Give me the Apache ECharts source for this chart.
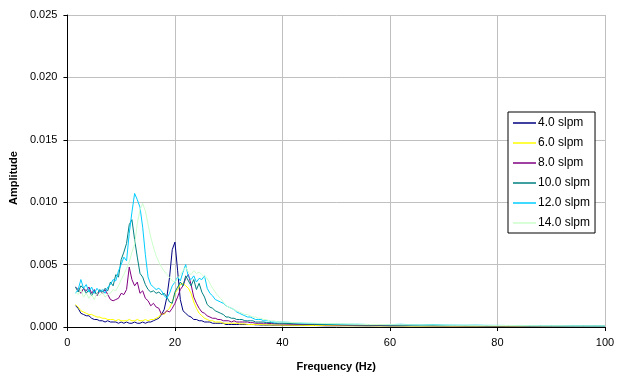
<!DOCTYPE html>
<html>
<head>
<meta charset="utf-8">
<script src="https://cdn.jsdelivr.net/npm/echarts@6/dist/echarts.min.js"></script>
<style>html,body{margin:0;padding:0;background:#fff}#chart{width:618px;height:379px}</style>
</head>
<body>
<div id="chart"></div>
<script>
// Frequency (Hz)
const freq = [
  1.5,2,2.5,3,3.5,4,4.5,5,5.5,6,
  6.5,7,7.5,8,8.5,9,9.5,10,10.5,11,
  11.5,12,12.5,13,13.5,14,14.5,15,15.5,16,
  16.5,17,17.5,18,18.5,19,19.5,20,20.5,21,
  21.5,22,22.5,23,23.5,24,24.5,25,25.5,26,
  26.5,27,27.5,28,28.5,29,29.5,30,30.5,31,
  31.5,32,32.5,33,33.5,34,34.5,35,35.5,36,
  36.5,37,37.5,38,38.5,39,39.5,40,
  42,44,46,48,50,52,54,56,58,60,
  62,64,66,68,70,72,74,76,78,80,
  82,84,86,88,90,92,94,96,98,100
];
const seriesNames = ['4.0 slpm','6.0 slpm','8.0 slpm','10.0 slpm','12.0 slpm','14.0 slpm'];
const amp4 = [
  .0017,.0015,.0011,.0010,.0009,.0009,.0007,.0006,.0006,.0005,
  .0005,.0004,.0005,.0004,.0004,.0004,.0003,.0004,.0003,.0004,
  .0003,.0003,.0004,.0003,.0003,.0004,.0003,.0004,.0004,.0005,
  .0006,.0007,.0010,.0014,.0024,.0040,.0062,.0068,.0045,.0022,
  .0013,.0011,.0009,.0008,.0006,.0006,.0005,.0005,.0004,.0004,
  .0004,.0003,.0003,.0003,.0003,.0003,.0002,.0002,.0002,.0002,
  .0002,.0002,.0002,.0002,.0002,.0002,.0002,.00018,.00018,.00016,
  .00016,.00015,.00016,.00015,.00014,.00015,.00014,.00014,
  .00013,.00012,.00012,.0001,.0001,.00011,.0001,.00009,.0001,.00008,
  .00008,.00009,.00008,.00008,.00007,.00008,.00007,.00007,.00007,.00006,
  .00007,.00006,.00006,.00007,.00006,.00006,.00005,.00006,.00005,.00005
];
const amp6 = [
  .0018,.0016,.0013,.0012,.0011,.0010,.0010,.0009,.0008,.0008,
  .0007,.0007,.0006,.0006,.0006,.0005,.0006,.0005,.0005,.0005,
  .0006,.0005,.0005,.0006,.0005,.0005,.0006,.0005,.0006,.0006,
  .0007,.0008,.0011,.0010,.0013,.0015,.0020,.0027,.0030,.0034,
  .0035,.0033,.0031,.0027,.0020,.0015,.0011,.0009,.0007,.0006,
  .0005,.0005,.0004,.0004,.0004,.0003,.0003,.0003,.0003,.0003,
  .0003,.00025,.00025,.00025,.0002,.0002,.0002,.0002,.0002,.0002,
  .00018,.00018,.00017,.00017,.00016,.00016,.00015,.00015,
  .00014,.00013,.00012,.00012,.00011,.0001,.0001,.0001,.00009,.00009,
  .00009,.00008,.00008,.00008,.00008,.00007,.00007,.00007,.00007,.00007,
  .00006,.00006,.00006,.00006,.00006,.00006,.00005,.00005,.00005,.00005
];
const amp8 = [
  .0032,.0030,.0027,.0031,.0029,.0032,.0027,.0030,.0025,.0029,
  .0027,.0030,.0026,.0022,.0021,.0022,.0023,.0027,.0026,.0030,
  .0048,.0038,.0033,.0036,.0027,.0029,.0023,.0021,.0017,.0019,
  .0016,.0015,.0010,.0011,.0013,.0012,.0015,.0019,.0024,.0030,
  .0033,.0039,.0042,.0034,.0024,.0019,.0015,.0012,.0011,.0009,
  .0008,.0007,.0007,.0006,.0006,.0005,.0005,.0005,.0004,.0005,
  .0004,.0004,.0004,.0004,.0004,.00035,.00035,.0003,.0003,.0003,
  .0003,.0003,.00028,.00028,.00026,.00026,.00025,.00025,
  .00022,.0002,.0002,.00018,.00017,.00016,.00015,.00015,.00014,.00013,
  .00013,.00012,.00012,.00011,.00011,.0001,.0001,.0001,.00009,.00009,
  .00009,.00009,.00008,.00008,.00008,.00008,.00007,.00007,.00007,.00007
];
const amp10 = [
  .0032,.0028,.0033,.0031,.0027,.0030,.0025,.0029,.0026,.0030,
  .0028,.0031,.0029,.0036,.0033,.0042,.0040,.0054,.0060,.0067,
  .0082,.0086,.0070,.0056,.0043,.0040,.0034,.0030,.0028,.0029,
  .0027,.0028,.0026,.0027,.0024,.0020,.0019,.0028,.0032,.0036,
  .0033,.0041,.0037,.0033,.0038,.0030,.0035,.0028,.0024,.0018,
  .0016,.0015,.0013,.0012,.0011,.0010,.0008,.0008,.0007,.0007,
  .0006,.0006,.0006,.0005,.0005,.0005,.0005,.0004,.0004,.0004,
  .0004,.00035,.00035,.00035,.0003,.0003,.0003,.0003,
  .00026,.00024,.00022,.0002,.0002,.00018,.00017,.00016,.00016,.00015,
  .00014,.00014,.00013,.00013,.00012,.00012,.00011,.00011,.0001,.0001,
  .0001,.0001,.00009,.00009,.00009,.00009,.00008,.00008,.00008,.00008
];
const amp12 = [
  .0027,.0030,.0038,.0031,.0034,.0028,.0032,.0027,.0031,.0028,
  .0030,.0027,.0032,.0034,.0038,.0037,.0045,.0050,.0056,.0053,
  .0075,.0092,.0107,.0102,.0096,.0080,.0058,.0040,.0034,.0032,
  .0030,.0031,.0029,.0025,.0023,.0027,.0033,.0036,.0040,.0037,
  .0044,.0050,.0040,.0038,.0041,.0036,.0039,.0038,.0041,.0031,
  .0027,.0025,.0022,.0021,.0020,.0019,.0017,.0016,.0015,.0014,
  .0012,.0011,.0010,.0009,.0008,.0008,.0007,.0006,.0006,.0006,
  .0005,.0005,.0005,.0004,.0004,.0004,.0004,.0004,
  .00035,.0003,.00028,.00026,.00024,.00022,.00022,.0002,.0002,.00019,
  .00022,.00018,.00017,.0002,.00016,.00015,.00014,.00015,.00013,.00013,
  .00012,.00012,.00011,.00012,.00011,.0001,.0001,.0001,.00009,.00009
];
const amp14 = [
  .0028,.0026,.0030,.0024,.0027,.0023,.0026,.0022,.0027,.0025,
  .0028,.0024,.0026,.0027,.0030,.0029,.0033,.0038,.0042,.0047,
  .0052,.0060,.0066,.0083,.0094,.0099,.0093,.0082,.0072,.0064,
  .0057,.0052,.0048,.0045,.0042,.0040,.0037,.0036,.0039,.0042,
  .0045,.0048,.0044,.0042,.0045,.0043,.0044,.0042,.0040,.0039,
  .0035,.0031,.0028,.0025,.0023,.0020,.0017,.0016,.0015,.0014,
  .0013,.0012,.0011,.0010,.0010,.0009,.0008,.0008,.0007,.0007,
  .0006,.0006,.0005,.0005,.0005,.0004,.0004,.0004,
  .00036,.00032,.0003,.00028,.00026,.00024,.00022,.0002,.0002,.00019,
  .00018,.00017,.00016,.00016,.00015,.00014,.00014,.00013,.00013,.00012,
  .00012,.00011,.00011,.0001,.0001,.0001,.00009,.00009,.00009,.00009
];
const seriesColors = ['#000080','#ffff00','#800080','#008080','#00ccff','#ccffcc'];
const allAmps = [amp4, amp6, amp8, amp10, amp12, amp14];

const font = "'Liberation Sans', Arial, sans-serif";
const chart = echarts.init(document.getElementById('chart'), null, {renderer: 'canvas'});
chart.setOption({
  animation: false,
  backgroundColor: '#fff',
  textStyle: {fontFamily: font, color: '#000'},
  grid: {left: 66.5, right: 13, top: 15, bottom: 52, containLabel: false},
  legend: {
    orient: 'vertical', left: 508, top: 112,
    padding: [5, 5, 4, 5], itemGap: 8, itemWidth: 23, itemHeight: 1.5,
    icon: 'rect',
    backgroundColor: '#fff', borderColor: '#000', borderWidth: 1,
    textStyle: {fontFamily: font, fontSize: 12, color: '#000', padding: [0, 0, 0, -3]},
    data: seriesNames
  },
  xAxis: {
    type: 'value', min: 0, max: 100, interval: 20,
    name: 'Frequency (Hz)', nameLocation: 'middle', nameGap: 34,
    nameTextStyle: {fontFamily: font, fontSize: 11, fontWeight: 'bold', color: '#000'},
    axisLine: {onZero: false, lineStyle: {color: '#000', width: 1}},
    axisTick: {show: true, inside: false, length: 4, lineStyle: {color: '#000'}},
    axisLabel: {margin: 10, fontFamily: font, fontSize: 11, color: '#000'},
    splitLine: {show: true, lineStyle: {color: '#c0c0c0', width: 1}}
  },
  yAxis: {
    type: 'value', min: 0, max: 0.025, interval: 0.005,
    name: 'Amplitude', nameLocation: 'middle', nameGap: 48,
    nameTextStyle: {fontFamily: font, fontSize: 11, fontWeight: 'bold', color: '#000', padding: [0, 0, 0, -14]},
    axisLine: {show: true, lineStyle: {color: '#000', width: 1}},
    axisTick: {show: true, inside: false, length: 4, lineStyle: {color: '#000'}},
    axisLabel: {margin: 10, fontFamily: font, fontSize: 11, color: '#000', formatter: v => v.toFixed(3)},
    splitLine: {show: true, lineStyle: {color: '#c0c0c0', width: 1}}
  },
  series: seriesNames.map((name, k) => ({
    name: name, type: 'line', symbol: 'none', showSymbol: false,
    color: seriesColors[k],
    lineStyle: {width: 1, color: seriesColors[k]},
    data: freq.map((f, i) => [f, allAmps[k][i]])
  }))
});
</script>
</body>
</html>
